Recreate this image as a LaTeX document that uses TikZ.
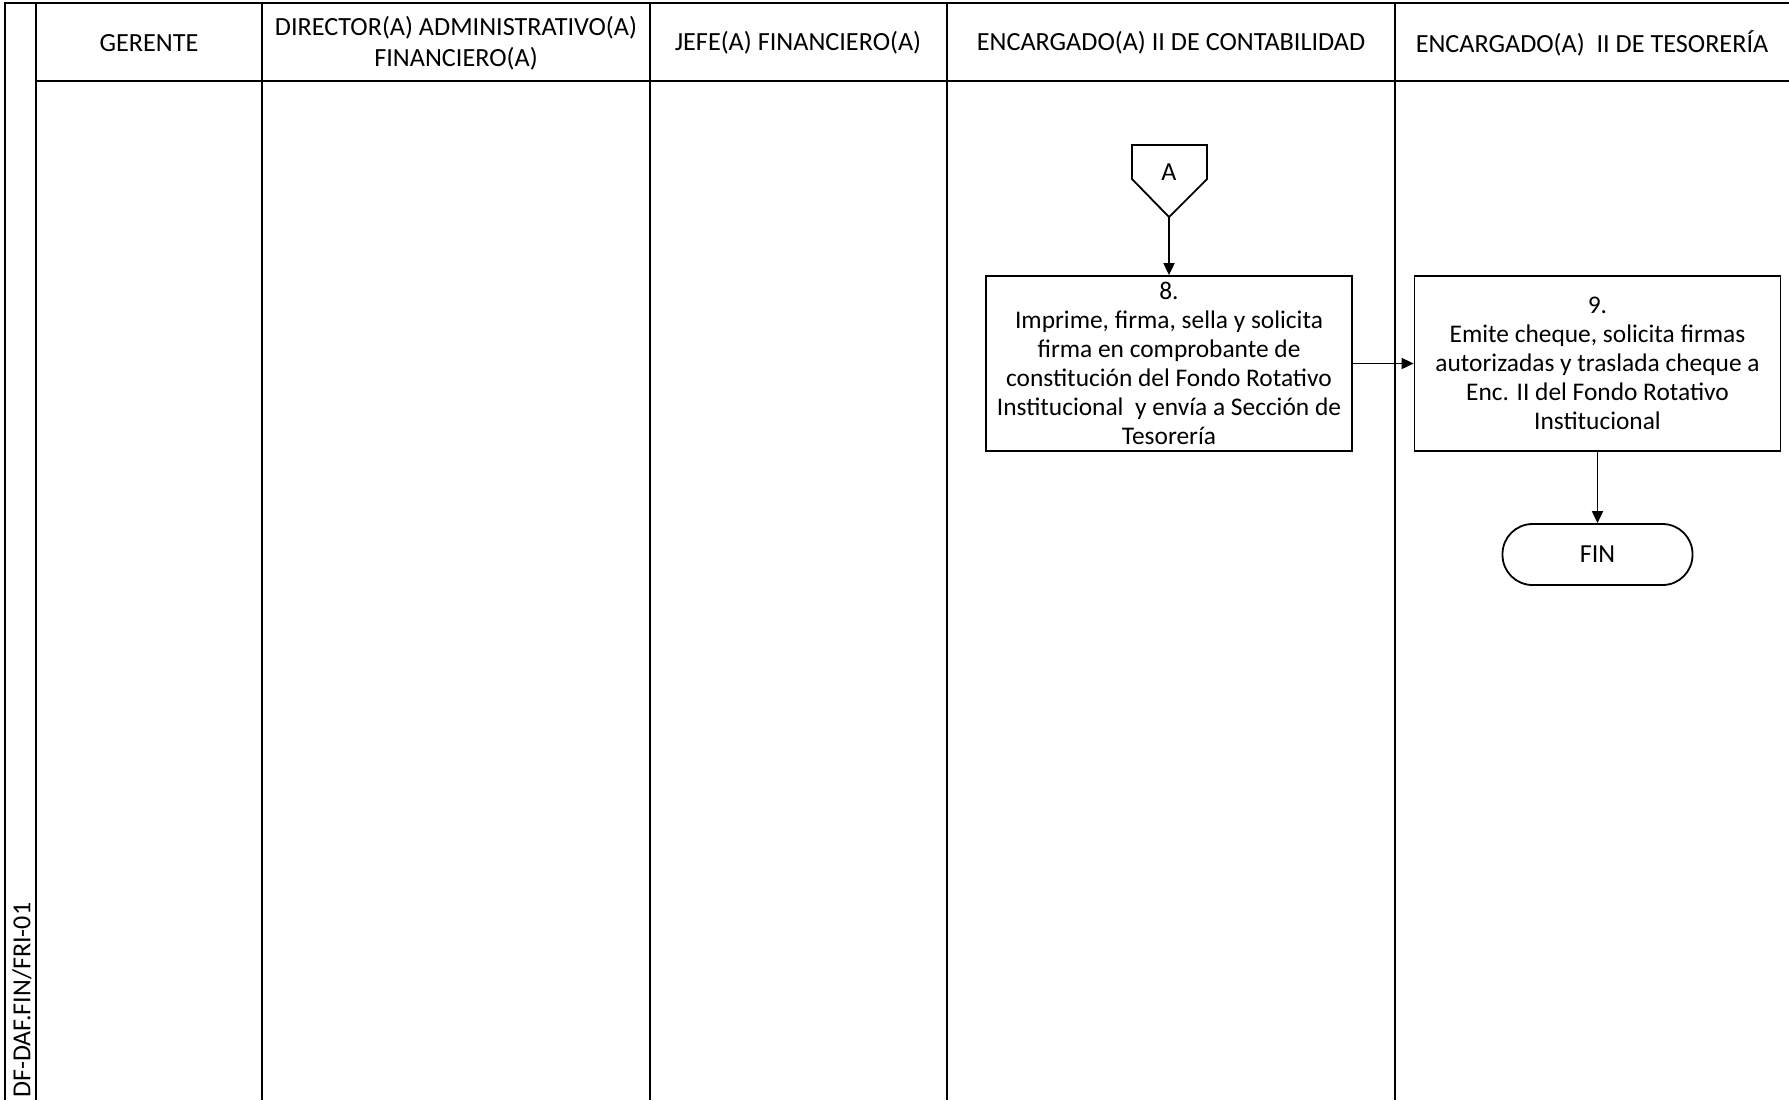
\documentclass[tikz,border=0pt]{standalone}
\usepackage{fontspec}
\setmainfont{Carlito}
\usetikzlibrary{arrows.meta}
\begin{document}
\begin{tikzpicture}[x=0.5pt,y=-0.5pt,
  frame/.style={line width=1.4pt,black},
  lane/.style={line width=0.9pt,black},
  lanehead/.style={font=\fontsize{13.1}{15.5}\selectfont,align=center,inner sep=0pt},
  stepbox/.style={draw,line width=0.9pt,minimum width=183pt,minimum height=87.5pt,
    align=center,inner sep=1pt,font=\fontsize{12.7}{14.5}\selectfont},
  terminal/.style={draw,line width=0.9pt,rounded corners=15pt,minimum width=95pt,
    minimum height=30.5pt,font=\fontsize{13}{14.5}\selectfont},
  flow/.style={line width=0.9pt,-{Triangle[length=6pt,width=5.5pt]}}]
\useasboundingbox (0,0) rectangle (1789,1100);
\fill[white] (0,0) rectangle (1789,1100);

% frame and swimlanes
\draw[frame] (5,1100) -- (5,3) -- (1789,3);
\draw[lane] (36,3) -- (36,1100);
\draw[lane] (36,81) -- (1789,81);
\foreach \xx in {262,650,947,1395}
  \draw[lane] (\xx,3) -- (\xx,1100);

% lane titles
\node[lanehead] (h1) at (149,43) {GERENTE};
\node[lanehead] (h2) at (456,43) {DIRECTOR(A) ADMINISTRATIVO(A)\\FINANCIERO(A)};
\node[lanehead] (h3) at (798,43) {JEFE(A) FINANCIERO(A)};
\node[lanehead] (h4) at (1171,43) {ENCARGADO(A) II DE CONTABILIDAD};
\node[lanehead] (h5) at (1592,43) {ENCARGADO(A)\ \ II DE TESORERÍA};

% form code
\node[anchor=west,rotate=90,inner sep=0pt,font=\fontsize{13}{14.5}\selectfont] (code) at (22,1098) {DF-DAF.FIN/FRI-01};

% off-page connector A
\draw[line width=0.9pt] (1132,145) -- (1207,145) -- (1207,179) -- (1169,217) -- (1132,179) -- cycle;
\node[font=\fontsize{13}{14.5}\selectfont,inner sep=0pt] (A) at (1169,172) {A};
\coordinate (Atip) at (1169,217);

% process steps
\node[stepbox] (s8) at (1169,363.5) {8.\\Imprime, firma, sella y solicita\\firma en comprobante de\\constitución del Fondo Rotativo\\Institucional\ \ y envía a Sección de\\Tesorería};
\node[stepbox] (s9) at (1597.5,363.5) {9.\\Emite cheque, solicita firmas\\autorizadas y traslada cheque a\\Enc. II del Fondo Rotativo\\Institucional};
\node[terminal] (fin) at (1597.5,554.5) {FIN};

% connectors
\draw[flow] (Atip) -- (s8.north);
\draw[flow] (s8.east) -- (s9.west);
\draw[flow] (s9.south) -- (fin.north);
\end{tikzpicture}
\end{document}
